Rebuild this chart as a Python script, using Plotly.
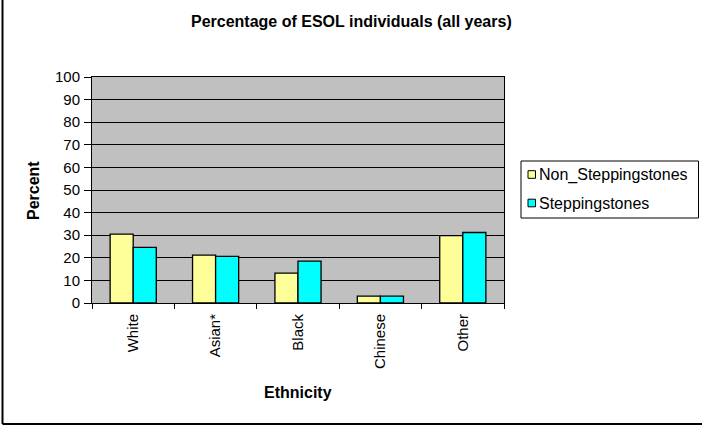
import plotly.graph_objects as go

categories = ["White", "Asian*", "Black", "Chinese", "Other"]
series_names = ["Non_Steppingstones", "Steppingstones"]
non_steppingstones = [30.5, 21.2, 13.2, 3.0, 29.8]
steppingstones = [24.6, 20.6, 18.5, 3.0, 31.2]
y_ticks = list(range(0, 101, 10))

FONT = "Liberation Sans, Arial, sans-serif"
COLORS = ["#FFFF99", "#00FFFF"]

fig = go.Figure()
for name, vals, col in zip(series_names, [non_steppingstones, steppingstones], COLORS):
    fig.add_trace(go.Bar(
        name=name, x=categories, y=vals, showlegend=False,
        marker=dict(color=col, line=dict(color="black", width=1.3)),
    ))

L, R, T, B = 92, 198, 77, 125
W, H = 702, 428
pw, ph = W - L - R, H - T - B

def px_x(x):
    return (x - L) / pw

def px_y(y):
    return (H - B - y) / ph

shapes = [
    # chart frame (left and bottom edges)
    dict(type="line", xref="paper", yref="paper",
         x0=px_x(2.5), x1=px_x(2.5), y0=px_y(0), y1=px_y(424),
         line=dict(color="black", width=2)),
    dict(type="line", xref="paper", yref="paper",
         x0=px_x(2.5), x1=px_x(702), y0=px_y(424), y1=px_y(424),
         line=dict(color="black", width=2)),
    # legend box
    dict(type="rect", xref="paper", yref="paper",
         x0=px_x(521), x1=px_x(698.5), y0=px_y(161), y1=px_y(218),
         line=dict(color="black", width=1), fillcolor="white"),
]

annotations = [
    dict(text="<b>Percentage of ESOL individuals (all years)</b>",
         xref="paper", yref="paper", x=px_x(351), y=px_y(22),
         xanchor="center", yanchor="middle", showarrow=False,
         font=dict(family=FONT, size=16)),
    dict(text="<b>Percent</b>", textangle=-90,
         xref="paper", yref="paper", x=px_x(33), y=px_y(191),
         xanchor="center", yanchor="middle", showarrow=False,
         font=dict(family=FONT, size=16)),
    dict(text="<b>Ethnicity</b>",
         xref="paper", yref="paper", x=px_x(298), y=px_y(392),
         xanchor="center", yanchor="middle", showarrow=False,
         font=dict(family=FONT, size=16)),
]

# legend entries: small swatch + series name
for i, (name, col) in enumerate(zip(series_names, COLORS)):
    cy = 174.5 + i * 28.5
    shapes.append(dict(type="rect", xref="paper", yref="paper",
                       x0=px_x(528), x1=px_x(535.5), y0=px_y(cy - 3.8), y1=px_y(cy + 3.8),
                       line=dict(color="black", width=1), fillcolor=col))
    annotations.append(dict(text=name, xref="paper", yref="paper",
                            x=px_x(537), y=px_y(cy), xanchor="left", yanchor="middle",
                            showarrow=False, font=dict(family=FONT, size=16)))

fig.update_layout(
    width=W, height=H,
    margin=dict(l=L, r=R, t=T, b=B),
    paper_bgcolor="white",
    plot_bgcolor="#C0C0C0",
    barmode="group",
    bargap=0.44,
    bargroupgap=0,
    font=dict(family=FONT, size=15, color="black"),
    showlegend=False,
    xaxis=dict(
        showline=True, linecolor="black", linewidth=1, mirror=True,
        ticks="outside", ticklen=5, tickcolor="black", tickson="boundaries",
        tickangle=-90, showgrid=False, ticklabelstandoff=4,
        tickfont=dict(family=FONT, size=15),
    ),
    yaxis=dict(
        range=[0, 100], tickvals=y_ticks,
        showline=True, linecolor="black", linewidth=1, mirror=True,
        ticks="outside", ticklen=7, tickcolor="black", ticklabelstandoff=1,
        showgrid=True, gridcolor="black", gridwidth=1,
        zeroline=False,
        tickfont=dict(family=FONT, size=15),
    ),
    annotations=annotations,
    shapes=shapes,
)

fig.write_html("out.html")
